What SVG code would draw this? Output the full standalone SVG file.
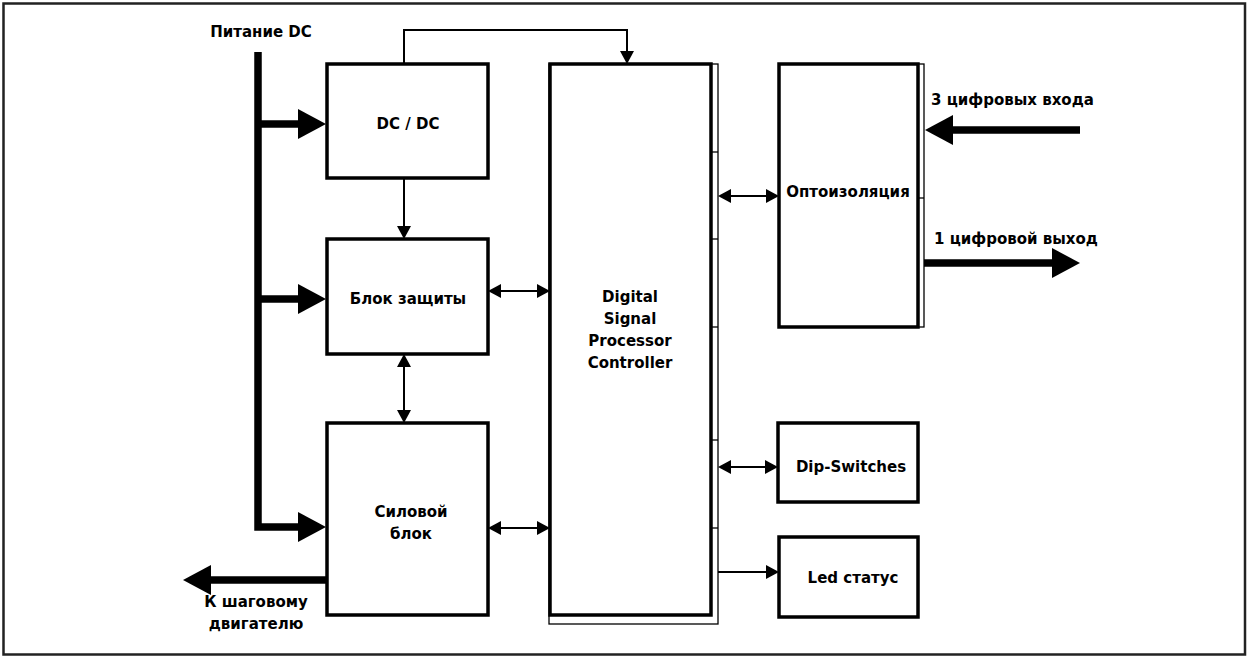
<svg xmlns="http://www.w3.org/2000/svg" width="1248" height="657" viewBox="0 0 1248 657">
<style>
.box{fill:#fff;stroke:#000;stroke-width:3.5}
.thin{fill:#fff;stroke:#000;stroke-width:1.3}
.tick{stroke:#000;stroke-width:1.3}
.c{fill:none;stroke:#000;stroke-width:2}
.bus{fill:none;stroke:#000;stroke-width:7.5;stroke-linejoin:miter}
text{font-family:"DejaVu Sans","Noto Sans",sans-serif;font-weight:bold;font-size:15px;fill:#000;text-anchor:middle}
.l{text-anchor:start}
</style>
<defs>
<marker id="a" markerUnits="userSpaceOnUse" markerWidth="14" markerHeight="16" refX="11" refY="8" orient="auto-start-reverse"><path d="M0,1 L13,8 L0,15 z" fill="#000"/></marker>
<marker id="A" markerUnits="userSpaceOnUse" markerWidth="30" markerHeight="32" refX="12" refY="16" orient="auto"><path d="M0,1 L28,16 L0,31 z" fill="#000"/></marker>
</defs>
<rect x="3.5" y="3.5" width="1241.5" height="651" fill="#fff" stroke="#222" stroke-width="2.5"/>

<g id="connectors">
<path class="bus" d="M258,52 V527 H310" marker-end="url(#A)"/>
<path class="bus" d="M258,124 H310" marker-end="url(#A)"/>
<path class="bus" d="M258,299 H310" marker-end="url(#A)"/>
<path class="bus" d="M327,580 H199" marker-end="url(#A)"/>
<path class="bus" d="M1080,130 H941" marker-end="url(#A)"/>
<path class="bus" d="M924,263 H1064" marker-end="url(#A)"/>
<path class="c" d="M404,64 V30 H627 V62" marker-end="url(#a)"/>
<path class="c" d="M404,178 V237" marker-end="url(#a)"/>
<path class="c" d="M404,356 V421" marker-start="url(#a)" marker-end="url(#a)"/>
<path class="c" d="M490,291 H548" marker-start="url(#a)" marker-end="url(#a)"/>
<path class="c" d="M490,528 H548" marker-start="url(#a)" marker-end="url(#a)"/>
<path class="c" d="M720,196 H777" marker-start="url(#a)" marker-end="url(#a)"/>
<path class="c" d="M720,467 H776" marker-start="url(#a)" marker-end="url(#a)"/>
<path class="c" d="M718,572 H777" marker-end="url(#a)"/>
</g>

<g id="dcdc"><rect class="box" x="327" y="64" width="161" height="114"/><text x="408" y="129">DC / DC</text></g>
<g id="protect"><rect class="box" x="327" y="239" width="161" height="115"/><text x="408" y="304">Блок защиты</text></g>
<g id="power"><rect class="box" x="327" y="423" width="161" height="192"/><text x="411" y="517">Силовой</text><text x="411" y="539">блок</text></g>
<g id="dsp">
<rect class="thin" x="549" y="64" width="169" height="560"/>
<rect class="box" x="550" y="64" width="161" height="551"/>
<line class="tick" x1="711" y1="152" x2="718" y2="152"/>
<line class="tick" x1="711" y1="239" x2="718" y2="239"/>
<line class="tick" x1="711" y1="327" x2="718" y2="327"/>
<line class="tick" x1="711" y1="440" x2="718" y2="440"/>
<line class="tick" x1="711" y1="528" x2="718" y2="528"/>
<text x="630" y="302">Digital</text><text x="630" y="324">Signal</text><text x="630" y="346">Processor</text><text x="630" y="368">Controller</text>
</g>
<g id="opto">
<rect class="thin" x="917" y="64" width="7" height="263"/>
<line class="tick" x1="918" y1="198" x2="924" y2="198"/>
<rect class="box" x="779" y="64" width="139" height="263"/>
<text x="848" y="197">Оптоизоляция</text>
</g>
<g id="dip"><rect class="box" x="778" y="423" width="140" height="79"/><text x="851" y="472">Dip-Switches</text></g>
<g id="led"><rect class="box" x="779" y="537" width="139" height="80"/><text x="853" y="583">Led статус</text></g>

<g id="labels">
<text x="261" y="37">Питание DC</text>
<text class="l" x="931" y="105">3 цифровых входа</text>
<text class="l" x="934" y="244">1 цифровой выход</text>
<text x="256" y="607">К шаговому</text>
<text x="256" y="629">двигателю</text>
</g>
</svg>
